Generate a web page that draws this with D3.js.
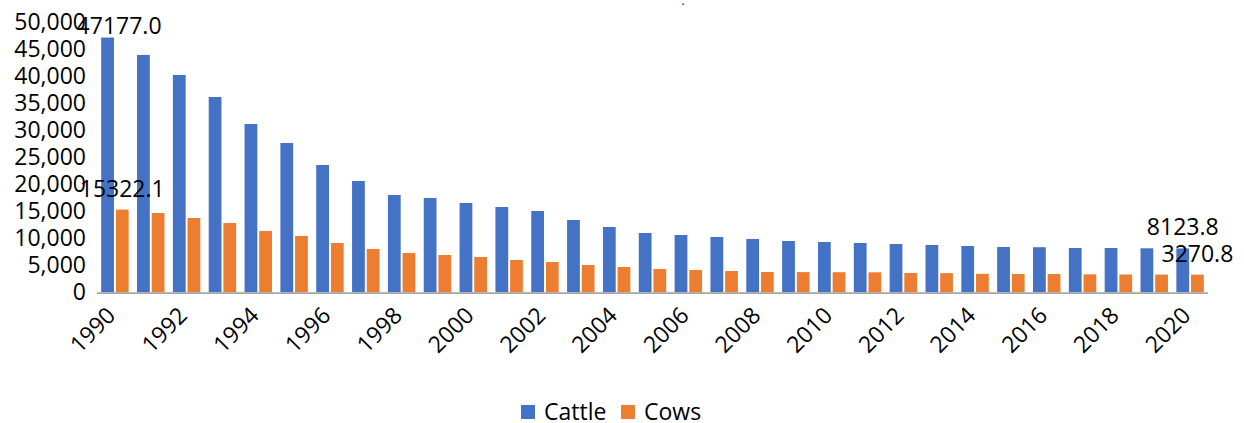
<!DOCTYPE html>
<html>

<head>
    <meta charset="utf-8">
    <title>Cattle and cows</title>
    <style type="text/css">
    body {
        margin: 0;
        background-color: #fff;
    }

    svg text {
        font-family: "Open Sans", sans-serif;
        fill: #000;
    }
    </style>
</head>

<body>
    <script src="https://cdn.jsdelivr.net/npm/d3@7"></script>
    <section id="chartArea"></section>
    <script>
    // data (first and last values are labelled)
    var years = d3.range(1990, 2021).map(String);
    var cattle = [47177.0, 43944, 40241, 36167, 31167, 27648, 23574, 20611, 18019, 17463,
        16537, 15796, 15056, 13389, 12093, 10981, 10611, 10241, 9870, 9500,
        9315, 9130, 8944, 8759, 8574, 8389, 8350, 8204, 8200, 8150, 8123.8
    ];
    var cows = [15322.1, 14685, 13759, 12833, 11352, 10426, 9130, 8019, 7278, 6907,
        6537, 5981, 5611, 5056, 4685, 4315, 4130, 3944, 3759, 3740,
        3720, 3700, 3570, 3550, 3420, 3400, 3380, 3320, 3300, 3285, 3270.8
    ];
    var seriesNames = ['Cattle', 'Cows'];
    var seriesColors = ['#4472C4', '#ED7D31'];
    var yTicks = [0, 5000, 10000, 15000, 20000, 25000, 30000, 35000, 40000, 45000, 50000];
    var xTickYears = years.filter(function(d, i) { return i % 2 === 0; });
    // only the first and last points carry a label
    var labelled = [0, 30];

    var w = 1244,
        h = 423;

    var svg = d3.select('#chartArea').append('svg')
        .attr('width', w)
        .attr('height', h);

    var x0 = d3.scaleBand()
        .domain(years)
        .range([97, 1208]);

    var x1 = d3.scaleBand()
        .domain(seriesNames)
        .range([4.2, x0.bandwidth() - 4.2])
        .paddingInner(0.13);

    var yScale = d3.scaleLinear()
        .domain([0, 50000])
        .range([292.3, 22.3]);

    var rows = years.map(function(yr, i) {
        return { year: yr, i: i, values: [cattle[i], cows[i]] };
    });

    // bars
    var groups = svg.selectAll('g.year')
        .data(rows)
        .enter()
        .append('g')
        .attr('class', 'year')
        .attr('transform', function(d) { return 'translate(' + x0(d.year) + ',0)'; });

    groups.selectAll('rect')
        .data(function(d) {
            return d.values.map(function(v, k) { return { key: seriesNames[k], k: k, v: v }; });
        })
        .enter()
        .append('rect')
        .attr('x', function(d) { return x1(d.key); })
        .attr('width', x1.bandwidth())
        .attr('y', function(d) { return yScale(d.v); })
        .attr('height', function(d) { return yScale(0) - yScale(d.v); })
        .attr('fill', function(d) { return seriesColors[d.k]; });

    // x axis line
    svg.append('line')
        .attr('x1', x0.range()[0])
        .attr('x2', x0.range()[1])
        .attr('y1', yScale(0) + 0.8)
        .attr('y2', yScale(0) + 0.8)
        .attr('stroke', '#a6a6a6')
        .attr('stroke-width', 1.6);

    // y tick labels
    svg.selectAll('text.ytick')
        .data(yTicks)
        .enter()
        .append('text')
        .attr('class', 'ytick')
        .attr('x', 86)
        .attr('y', function(d) { return yScale(d); })
        .attr('dy', '0.33em')
        .attr('text-anchor', 'end')
        .style('font-size', '23px')
        .text(d3.format(','));

    // x tick labels, rotated
    svg.selectAll('text.xtick')
        .data(xTickYears)
        .enter()
        .append('text')
        .attr('class', 'xtick')
        .attr('text-anchor', 'end')
        .attr('transform', function(d) {
            var cx = x0(d) + x0.bandwidth() / 2 + 2;
            return 'translate(' + cx + ',317) rotate(-45)';
        })
        .style('font-size', '23px')
        .text(function(d) { return d; });

    // data labels
    var labels = [];
    labelled.forEach(function(i) {
        seriesNames.forEach(function(name, k) {
            labels.push({ year: years[i], key: name, v: rows[i].values[k] });
        });
    });

    svg.selectAll('text.dlabel')
        .data(labels)
        .enter()
        .append('text')
        .attr('class', 'dlabel')
        .attr('text-anchor', 'middle')
        .attr('x', function(d) {
            var cx = x0(d.year) + x1(d.key) + x1.bandwidth() / 2;
            // the top label is pushed right and down to stay inside the chart
            return yScale(d.v) - 13 < 34 ? cx + 11.5 : cx;
        })
        .attr('y', function(d) { return Math.max(yScale(d.v) - 13, 34); })
        .style('font-size', '23px')
        .text(function(d) { return d3.format('.1f')(d.v); });

    // legend
    var legend = svg.selectAll('g.legend')
        .data(seriesNames)
        .enter()
        .append('g')
        .attr('class', 'legend')
        .attr('transform', function(d, i) { return 'translate(' + [521, 621][i] + ',0)'; });

    legend.append('rect')
        .attr('x', 0)
        .attr('y', 405)
        .attr('width', 14)
        .attr('height', 14)
        .attr('fill', function(d, i) { return seriesColors[i]; });

    legend.append('text')
        .attr('x', 23)
        .attr('y', 420)
        .style('font-size', '23px')
        .text(function(d) { return d; });

    // stray dot at the top of the original
    svg.append('text')
        .attr('x', 683)
        .attr('y', 5)
        .attr('text-anchor', 'middle')
        .style('font-size', '12px')
        .text('.');
    </script>
</body>

</html>
